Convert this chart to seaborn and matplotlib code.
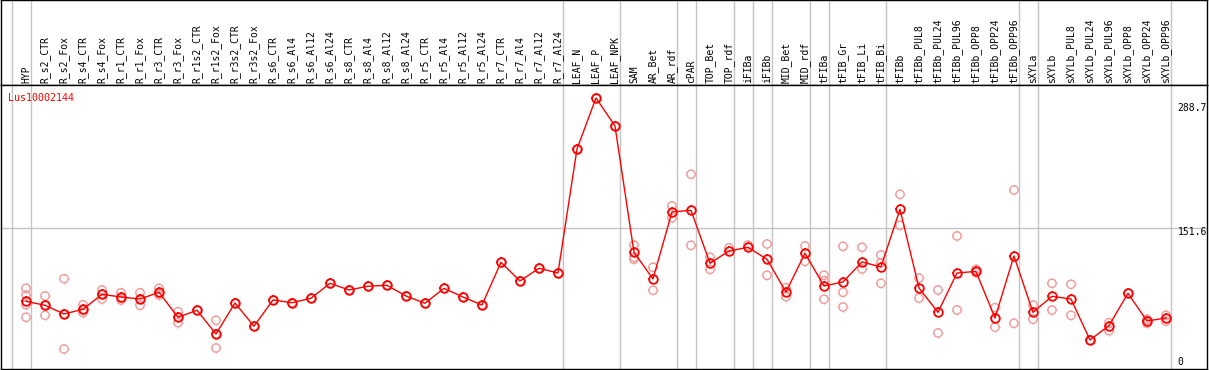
import matplotlib
matplotlib.use('Agg')
import matplotlib.pyplot as plt
import matplotlib.transforms as mtrans
from matplotlib.path import Path
import numpy as np
import pandas as pd
import seaborn as sns


gene = 'Lus10002144'

samples = ['HYP', 'R_s2_CTR', 'R_s2_Fox', 'R_s4_CTR', 'R_s4_Fox', 'R_r1_CTR',
           'R_r1_Fox', 'R_r3_CTR', 'R_r3_Fox', 'R_r1s2_CTR', 'R_r1s2_Fox',
           'R_r3s2_CTR', 'R_r3s2_Fox', 'R_s6_CTR', 'R_s6_Al4', 'R_s6_Al12',
           'R_s6_Al24', 'R_s8_CTR', 'R_s8_Al4', 'R_s8_Al12', 'R_s8_Al24',
           'R_r5_CTR', 'R_r5_Al4', 'R_r5_Al12', 'R_r5_Al24', 'R_r7_CTR',
           'R_r7_Al4', 'R_r7_Al12', 'R_r7_Al24', 'LEAF_N', 'LEAF_P', 'LEAF_NPK',
           'SAM', 'AR_Bet', 'AR_rdf', 'cPAR', 'TOP_Bet', 'TOP_rdf', 'iFIBa',
           'iFIBb', 'MID_Bet', 'MID_rdf', 'tFIBa', 'tFIB_Gr', 'tFIB_Li',
           'tFIB_Bi', 'tFIBb', 'tFIBb_PUL8', 'tFIBb_PUL24', 'tFIBb_PUL96',
           'tFIBb_OPP8', 'tFIBb_OPP24', 'tFIBb_OPP96', 'sXYLa', 'sXYLb',
           'sXYLb_PUL8', 'sXYLb_PUL24', 'sXYLb_PUL96', 'sXYLb_OPP8',
           'sXYLb_OPP24', 'sXYLb_OPP96']

# mean expression per sample
means = [73.7, 69.5, 60.3, 65.2, 81.1, 78.2, 76.1, 83.2, 56.8, 64.2, 39.1,
         71.9, 47.3, 75.1, 72.2, 76.9, 92.7, 85.7, 89.6, 90.6, 79.3, 71.6,
         87.4, 78.2, 69.8, 114.9, 95.2, 108.6, 103.6, 234.7, 288.7, 259.1,
         125.5, 97.3, 168.1, 169.9, 113.9, 126.9, 130.8, 118.1, 83.5, 124.5,
         89.9, 94.1, 115.3, 110.0, 171.0, 87.8, 62.0, 103.6, 105.3, 56.0,
         121.6, 62.0, 79.0, 76.1, 32.8, 47.9, 82.2, 52.9, 56.0]

# individual replicates
replicates = [[87.4, 80.4, 70.1, 56.8], [79.3, 58.9, 69.5], [97.6, 23.3, 60.3],
              [70.1, 61.7, 64.5], [85.7, 76.1, 81.5], [82.8, 75.1, 77.0],
              [82.8, 69.5, 76.1], [87.4, 80.4, 82.0], [62.7, 51.1, 56.8],
              [64.2], [53.6, 24.3, 39.4], [71.9], [47.3], [75.1], [72.2],
              [76.9], [92.7], [85.7], [89.6], [90.6], [79.3], [71.6], [87.4],
              [78.2], [69.8], [114.9], [95.2], [108.6], [103.6], [234.7],
              [288.7], [259.1], [133.2, 118.1, 120.2], [109.7, 85.3],
              [174.5, 162.1], [208.0, 132.9], [120.2, 107.5], [130.4],
              [133.2], [134.3, 101.2], [88.1, 78.6], [132.2, 116.0],
              [101.2, 95.5, 75.8], [131.8, 83.2, 67.7], [130.8, 107.9],
              [122.7, 114.5, 92.7], [186.8, 154.0], [98.3, 77.2], [85.7, 40.2],
              [142.8, 64.5], [107.5, 104.0], [67.0, 46.4], [191.4, 50.4],
              [69.8, 54.7], [92.7, 64.5], [91.7, 58.9], [32.8], [51.1, 42.6],
              [82.2], [54.7, 50.4], [58.9, 52.6]]

# last sample of each tissue group
group_ends = [-1, 0, 28, 31, 34, 35, 37, 38, 39, 41, 42, 45, 52, 53, 60]

y_marks = [288.7, 151.6, 0]

pos = np.arange(len(samples))
mean_df = pd.DataFrame({'pos': pos, 'value': means})
rep_df = pd.DataFrame([(i, v) for i, reps in enumerate(replicates) for v in reps],
                      columns=['pos', 'value'])

plt.rcParams['font.family'] = ['DejaVu Sans Mono']

# small ticks around the circle markers
tv = [(0, 1), (0, 1.35), (0, -1), (0, -1.35), (1, 0), (1.35, 0), (-1, 0), (-1.35, 0)]
tc = [Path.MOVETO, Path.LINETO] * 4
ticks = Path(tv, tc)

W, H = 1209, 370
fig = plt.figure(figsize=(W / 100, H / 100), dpi=100)
head = fig.add_axes([1 / W, (H - 85) / H, 1206 / W, 85 / H])
ax = fig.add_axes([1 / W, 1 / H, 1206 / W, 284 / H], sharex=head)

ax.set_xlim(-1.316, 62.16)
ax.set_ylim(2.1, 302.4)
head.set_ylim(0, 1)

for a in (head, ax):
    a.set_xticks([])
    a.set_yticks([])
    for s in a.spines.values():
        s.set_color('black')
        s.set_linewidth(1)
    for e in group_ends:
        a.axvline(e + 0.26, color='#c4c4c4', lw=1, zorder=0)

ax.axhline(151.6, color='#c4c4c4', lw=1, zorder=0)

for i, name in enumerate(samples):
    head.text(i, 0.025, name, rotation=90, ha='center', va='bottom',
              fontsize=7)

pink = '#f09a9a'
sns.scatterplot(data=rep_df, x='pos', y='value', ax=ax, marker='o', s=36,
                facecolor='none', edgecolor=pink, linewidth=1, zorder=2,
                legend=False)
sns.scatterplot(data=rep_df, x='pos', y='value', ax=ax, marker=ticks, s=56,
                color=pink, edgecolor=pink, linewidth=1, zorder=2, legend=False)
sns.lineplot(data=mean_df, x='pos', y='value', ax=ax, color='red', lw=1,
             marker='o', markersize=6.2, mfc='none', mec='red', mew=1.3,
             errorbar=None, zorder=3)
sns.scatterplot(data=mean_df, x='pos', y='value', ax=ax, marker=ticks, s=60,
                color='red', edgecolor='red', linewidth=1.2, zorder=3,
                legend=False)
ax.set_xlabel('')
ax.set_ylabel('')

ax.text(0.006, 0.955, gene, transform=ax.transAxes, color='red', fontsize=7.2,
        va='center', ha='left')

tr = mtrans.blended_transform_factory(ax.transAxes, ax.transData)
offs = [-7.2, -2.9, 6.5]
for v, o in zip(y_marks, offs):
    ax.annotate(f'{v:g}', xy=(0.9755, v), xycoords=tr, xytext=(0, o),
                textcoords='offset points', fontsize=7, va='center', ha='left')

fig.savefig('out.png', dpi=100)
